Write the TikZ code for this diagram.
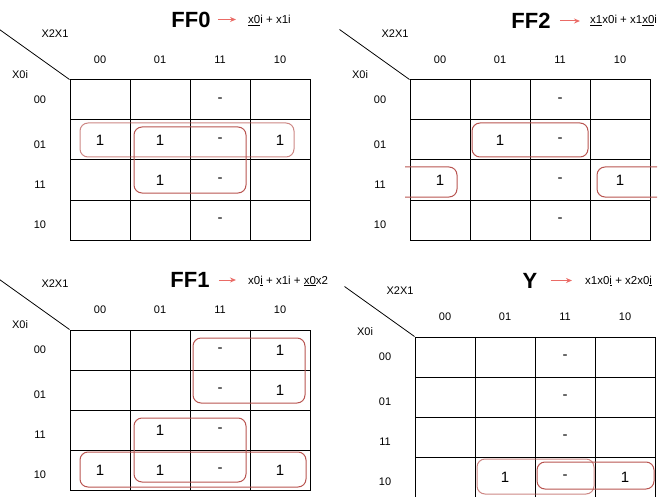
\documentclass[tikz,border=0pt]{standalone}
\usepackage{fontspec}
\setmainfont{Liberation Sans}
\usetikzlibrary{calc}
\usetikzlibrary{arrows.meta}
\definecolor{grpred}{RGB}{184,84,80}
\definecolor{arrred}{RGB}{234,107,102}
\tikzstyle{kcell}=[draw,line width=1pt,minimum width=60pt,minimum height=40pt,inner sep=0pt,font=\fontsize{15}{18}\selectfont]
\tikzstyle{klabel}=[inner sep=0pt,font=\fontsize{11}{13}\selectfont]
\tikzstyle{group}=[draw=grpred,line width=1pt,rounded corners=8pt]
\tikzstyle{lightgroup}=[group,draw opacity=0.7]
\tikzstyle{title}=[inner sep=0pt,font=\fontsize{22}{26}\selectfont\bfseries]
\tikzstyle{expr}=[inner sep=0pt,anchor=base west,font=\fontsize{11.5}{14}\selectfont]
\tikzstyle{implies}=[arrred,line width=1pt,-{Stealth[length=6pt,width=5pt]}]
\newcommand{\drawkmap}[2]{% Syntax: {name}{16 entries, row by row}
  \foreach \e [count=\k from 0] in {#2} {
    \pgfmathtruncatemacro{\krow}{\k/4}
    \pgfmathtruncatemacro{\kcol}{mod(\k,4)}
    \node[kcell] (#1-\krow\kcol) at (30+60*\kcol,20+40*\krow) {\e};
  }
  \draw[line width=0.8pt] (#1-00.north west) -- ++(-70,-50);
  \node[klabel] (#1-cols) at (-15,-46) {X2X1};
  \node[klabel] (#1-rows) at (-50,-5) {X0i};
  \foreach \g [count=\k from 0] in {00,01,11,10} {
    \node[klabel] (#1-col\k) at (30+60*\k,-20) {\g};
  }
  \foreach \g/\y [count=\k from 0] in {00/20,01/65,11/105,10/145} {
    \node[klabel] (#1-row\k) at (-30,\y) {\g};
  }
}

\begin{document}
\begin{tikzpicture}[x=1pt,y=-1pt]
	\useasboundingbox (0,0) rectangle (671,497);
	% FF0
	\begin{scope}[shift={(70,80)}]
	\drawkmap{FF0}{{},{},-,{}, 1,1,-,1, {},1,-,{}, {},{},-,{}}
	\draw[lightgroup] (10,43) rectangle (224,77);
	\draw[group] (64,47) rectangle (176,113);
	\end{scope}
	\node[title] (FF0-title) at (191,19.5) {FF0};
	\node[expr] (FF0-expr) at (248,24) {\underline{x0}i + x1i};
	\draw[implies,shorten <=7pt,shorten >=12pt] (FF0-title.east) -- (FF0-title.east -| FF0-expr.west);
	% FF2
	\begin{scope}[shift={(410,80)}]
	\drawkmap{FF2}{{},{},-,{}, {},1,-,{}, 1,{},-,1, {},{},-,{}}
	\draw[group] (62,43) rectangle (178,77);
	\draw[group] (-5,87) -- (47,87) -- (47,117) -- (-5,117);
	\draw[group] (247,87) -- (187,87) -- (187,117) -- (247,117);
	\end{scope}
	\node[title] (FF2-title) at (531,21) {FF2};
	\node[expr] (FF2-expr) at (590,24) {\underline{x1}x0i + x1\underline{x0}i};
	\draw[implies,shorten <=9pt,shorten >=10pt] (FF2-title.east) -- (FF2-title.east -| FF2-expr.west);
	% FF1
	\begin{scope}[shift={(70,330)}]
	\drawkmap{FF1}{{},{},-,1, {},{},-,1, {},1,-,{}, 1,1,-,1}
	\draw[group] (123,8) rectangle (235,73);
	\draw[group] (64,88) rectangle (176,152);
	\draw[group] (10,122) rectangle (236,157);
	\end{scope}
	\node[title] (FF1-title) at (190,280) {FF1};
	\node[expr] (FF1-expr) at (248,284) {x0\underline{i} + x1i + \underline{x0}x2};
	\draw[implies,shorten <=9pt,shorten >=12pt] (FF1-title.east) -- (FF1-title.east -| FF1-expr.west);
	% Y
	\begin{scope}[shift={(415,337)}]
	\drawkmap{Y}{{},{},-,{}, {},{},-,{}, {},{},-,{}, {},1,-,1}
	\draw[lightgroup] (62,122) rectangle (179,157);
	\draw[group] (122,125) rectangle (239,152);
	\end{scope}
	\node[title] (Y-title) at (530,280.5) {Y};
	\node[expr] (Y-expr) at (585,284) {x1x0\underline{i} + x2x0\underline{i}};
	\draw[implies,shorten <=13pt,shorten >=13pt] (Y-title.east) -- (Y-title.east -| Y-expr.west);
\end{tikzpicture}
\end{document}
